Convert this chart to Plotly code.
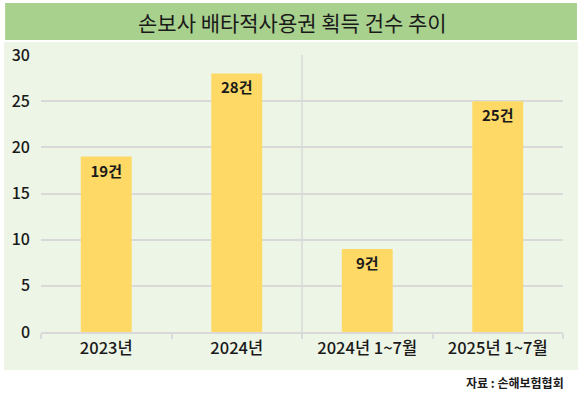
import plotly.graph_objects as go

categories = ["2023년", "2024년", "2024년 1~7월", "2025년 1~7월"]
values = [19, 28, 9, 25]
labels = ["19건", "28건", "9건", "25건"]
y_ticks = [0, 5, 10, 15, 20, 25, 30]

W, H = 580, 396
ML, MR, MT, MB = 39, 17, 55, 64
PW, PH = W - ML - MR, H - MT - MB

def px_x(p):
    return (p - ML) / PW

def px_y(p):
    return 1 - (p - MT) / PH

FONT = "Noto Sans CJK KR"

fig = go.Figure(go.Bar(
    x=categories, y=values, text=labels,
    textposition="inside", insidetextanchor="end",
    textfont=dict(family=FONT, size=15, color="#1a1a1a", weight=700),
    marker=dict(color="#FFD966", line=dict(width=0)),
    width=0.39, cliponaxis=False,
))

shapes = [
    dict(type="rect", xref="paper", yref="paper", layer="below",
         x0=px_x(2), x1=px_x(578), y0=px_y(370), y1=px_y(42),
         fillcolor="#EDF5E6", line=dict(width=0)),
    dict(type="rect", xref="paper", yref="paper", layer="below",
         x0=px_x(3), x1=px_x(577), y0=px_y(40), y1=px_y(3),
         fillcolor="#A9D18E", line=dict(width=0)),
    dict(type="line", xref="x", yref="paper", layer="below",
         x0=1.5, x1=1.5, y0=0, y1=1,
         line=dict(color="#D9D9D9", width=1.5)),
]

fig.update_layout(
    width=W, height=H,
    margin=dict(l=ML, r=MR, t=MT, b=MB),
    paper_bgcolor="white", plot_bgcolor="rgba(0,0,0,0)",
    showlegend=False,
    shapes=shapes,
    font=dict(family=FONT, color="#1a1a1a"),
    annotations=[
        dict(text="손보사 배타적사용권 획득 건수 추이", xref="paper", yref="paper",
             x=px_x(291), y=px_y(22), xanchor="center", yanchor="middle",
             showarrow=False, font=dict(family=FONT, size=21, color="#1a1a1a", weight=400)),
        dict(text="<b>자료 : 손해보험협회</b>", xref="paper", yref="paper",
             x=px_x(566), y=px_y(382), xanchor="right", yanchor="middle",
             showarrow=False, font=dict(family=FONT, size=12, color="#1a1a1a")),
    ],
    xaxis=dict(
        type="category", tickson="boundaries", ticks="outside", ticklen=5,
        tickcolor="#D9D9D9", tickwidth=1.5,
        showline=True, linecolor="#D9D9D9", linewidth=1.5,
        showgrid=False,
        tickfont=dict(family=FONT, size=16.5, color="#1a1a1a", weight=500),
    ),
    yaxis=dict(
        range=[0, 30], tickvals=y_ticks, showgrid=True,
        gridcolor="#D9D9D9", gridwidth=1.5, zeroline=False,
        showline=False, ticks="", ticklabelstandoff=10,
        tickfont=dict(family=FONT, size=16, color="#1a1a1a", weight=500),
    ),
)

fig.write_html("out.html", config={"displayModeBar": False},
               post_script="document.body.style.margin='0';")
